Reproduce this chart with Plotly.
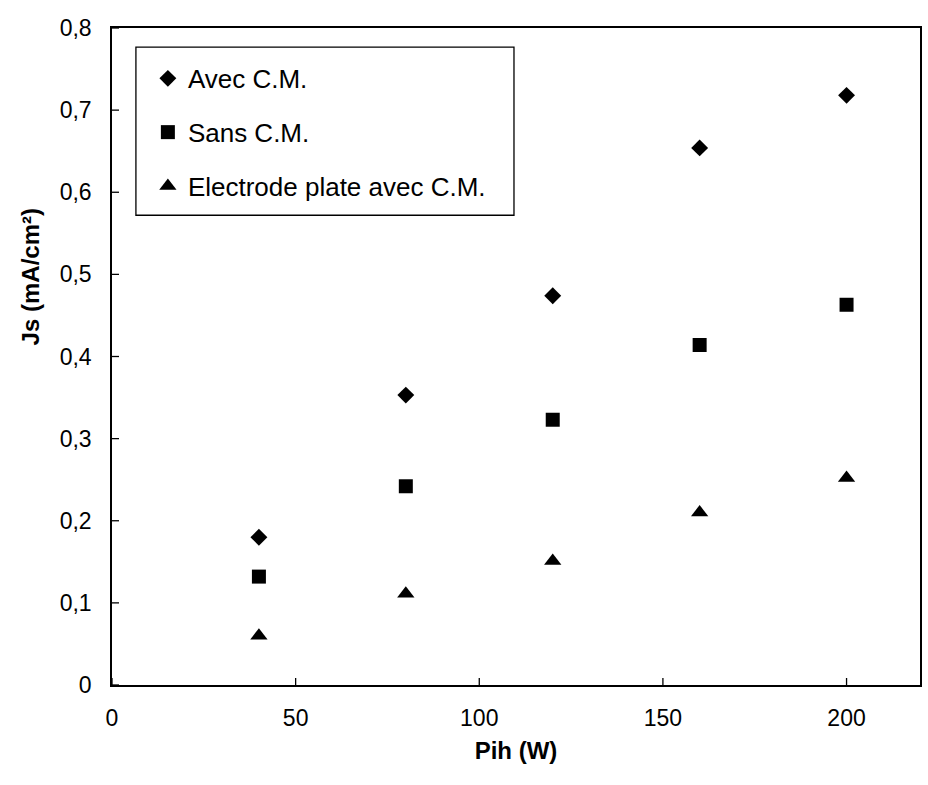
import plotly.graph_objects as go

# Puissance injectée (W)
pih = [40, 80, 120, 160, 200]

# Densité de courant de saturation Js (mA/cm²)
js_avec_cm = [0.180, 0.353, 0.474, 0.654, 0.718]
js_sans_cm = [0.132, 0.242, 0.323, 0.414, 0.463]
js_plate_cm = [0.060, 0.111, 0.151, 0.210, 0.252]

series_names = ["Avec C.M.", "Sans C.M.", "Electrode plate avec C.M."]
series_symbols = ["diamond", "square", "triangle-up"]
series_sizes = [13, 14, 15]

x_ticks = [0, 50, 100, 150, 200]
x_ticklabels = ["0", "50", "100", "150", "200"]
y_ticks = [0, 0.1, 0.2, 0.3, 0.4, 0.5, 0.6, 0.7, 0.8]
y_ticklabels = ["0", "0,1", "0,2", "0,3", "0,4", "0,5", "0,6", "0,7", "0,8"]

FONT = "Liberation Sans, Arial, sans-serif"

fig = go.Figure()
for i, (name, ys, sym, sz) in enumerate(
    zip(series_names, [js_avec_cm, js_sans_cm, js_plate_cm], series_symbols, series_sizes)
):
    fig.add_trace(go.Scatter(
        x=pih, y=ys, mode="markers", name=name, legendgroup=f"g{i}",
        marker=dict(symbol=sym, size=sz, color="black", line=dict(width=0)),
    ))

# crossing tick marks on both axes
shapes = []
for xv in x_ticks:
    shapes.append(dict(type="line", xref="x", yref="y", x0=xv, x1=xv,
                       ysizemode="pixel", yanchor=0, y0=-7, y1=7,
                       line=dict(color="black", width=1.3)))
for yv in y_ticks:
    shapes.append(dict(type="line", xref="x", yref="y", y0=yv, y1=yv,
                       xsizemode="pixel", xanchor=0, x0=-7, x1=7,
                       line=dict(color="black", width=1.3)))

# frame around the legend
shapes.append(dict(type="rect", xref="paper", yref="paper",
                   x0=0.0296, x1=0.4975, y0=0.715, y1=0.971,
                   line=dict(color="black", width=1.3), fillcolor="rgba(0,0,0,0)",
                   layer="above"))

fig.update_layout(
    width=928, height=785,
    margin=dict(l=112, r=6, t=28, b=100),
    paper_bgcolor="white", plot_bgcolor="white",
    font=dict(family=FONT, size=24, color="black"),
    showlegend=True,
    legend=dict(
        x=0.0444, y=0.959, xanchor="left", yanchor="top",
        bgcolor="rgba(0,0,0,0)", borderwidth=0,
        traceorder="grouped", tracegroupgap=17,
        font=dict(family=FONT, size=26, color="black"),
        itemwidth=30,
    ),
    shapes=shapes,
    annotations=[dict(
        text="<b>Js (mA/cm²)</b>", textangle=-90,
        xref="paper", yref="paper", x=-0.101, y=0.621,
        xanchor="center", yanchor="middle", showarrow=False,
        font=dict(family=FONT, size=24),
    )],
    xaxis=dict(
        range=[0, 220], tickmode="array", tickvals=x_ticks, ticktext=x_ticklabels,
        ticks="", showgrid=False, zeroline=False,
        showline=True, linecolor="black", linewidth=1.5, mirror=True,
        tickfont=dict(family=FONT, size=23), ticklabelstandoff=12,
        title=dict(text="<b>Pih (W)</b>", font=dict(family=FONT, size=24), standoff=12),
    ),
    yaxis=dict(
        range=[0, 0.8], tickmode="array", tickvals=y_ticks, ticktext=y_ticklabels,
        ticks="", showgrid=False, zeroline=False,
        showline=True, linecolor="black", linewidth=1.5, mirror=True,
        tickfont=dict(family=FONT, size=23), ticklabelstandoff=14,
    ),
)

fig.write_html("out.html")
